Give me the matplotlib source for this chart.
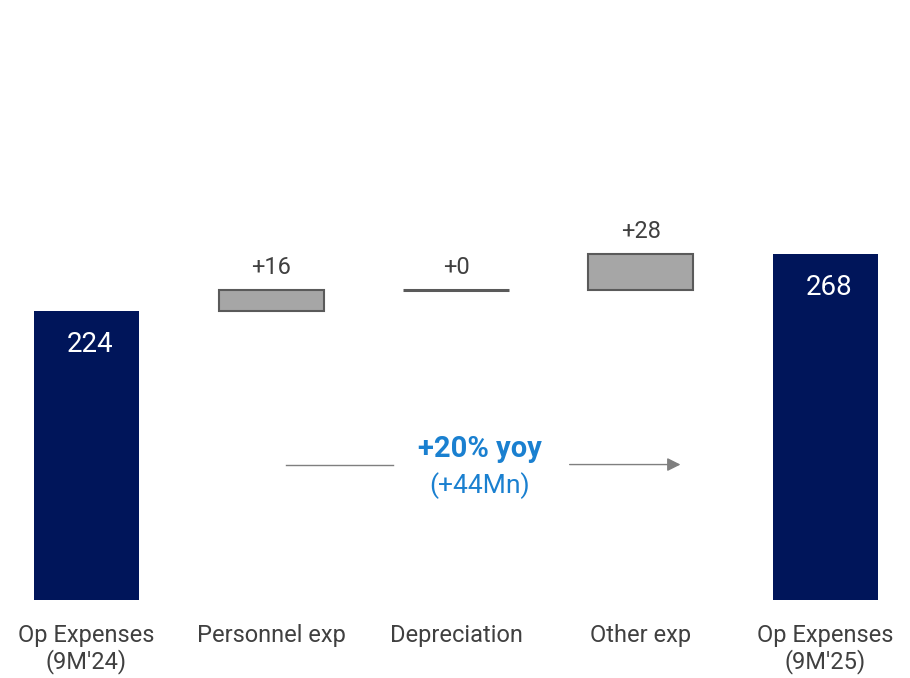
import numpy as np
import matplotlib.pyplot as plt

plt.rcParams['font.family'] = ['Roboto', 'DejaVu Sans']

# Data
categories = ["Op Expenses\n(9M'24)", "Personnel exp", "Depreciation", "Other exp", "Op Expenses\n(9M'25)"]
start_value = 224
deltas = [16, 0, 28]
end_value = 268
yoy_text = "+20% yoy"
abs_text = "(+44Mn)"

navy = '#00155a'
grey_fill = '#a6a6a6'
grey_edge = '#5a5a5a'
blue = '#1a80d0'

fig = plt.figure(figsize=(9.10, 6.78), dpi=100)
ax = fig.add_axes([0, 1 - 600 / 678, 1, 600 / 678])

x = np.arange(len(categories))
w = 0.57

# totals
ax.bar(x[0], start_value, width=w, color=navy)
ax.bar(x[-1], end_value, width=w, color=navy)
ax.text(x[0] + 0.02, start_value - 26, str(start_value), ha='center', va='center',
        color='white', fontsize=20)
ax.text(x[-1] + 0.02, end_value - 26, str(end_value), ha='center', va='center',
        color='white', fontsize=20)

# deltas
base = start_value
for i, d in enumerate(deltas, start=1):
    if d == 0:
        ax.plot([x[i] - w / 2, x[i] + w / 2], [base, base], color=grey_edge, lw=2.2,
                solid_capstyle='butt')
    else:
        ax.bar(x[i], d, bottom=base, width=w, color=grey_fill, edgecolor=grey_edge, lw=1.5)
    ax.text(x[i], base + d + 9, f"+{d}", ha='center', va='bottom', color='#404040', fontsize=17)
    base += d

# yoy arrow
y_arr = 105
ax.plot([1.08, 1.66], [y_arr, y_arr], color='#7f7f7f', lw=1)
ax.annotate('', xy=(3.23, y_arr), xytext=(2.60, y_arr),
            arrowprops=dict(arrowstyle='-|>', color='#7f7f7f', lw=1, mutation_scale=20))
ax.text(2.13, y_arr + 12, yoy_text, ha='center', va='center', color=blue,
        fontsize=21, fontweight='bold')
ax.text(2.13, y_arr - 16, abs_text, ha='center', va='center', color=blue, fontsize=19)

ax.set_xlim(-86.5 / 184.75, (910 - 86.5) / 184.75)
ax.set_ylim(0, 600 / 1.29)
ax.set_xticks(x)
ax.set_xticklabels(categories, fontsize=17, color='#404040', linespacing=1.12)
ax.tick_params(axis='x', length=0, pad=17)
ax.set_yticks([])
for s in ax.spines.values():
    s.set_visible(False)

fig.savefig('out.png', dpi=100)
